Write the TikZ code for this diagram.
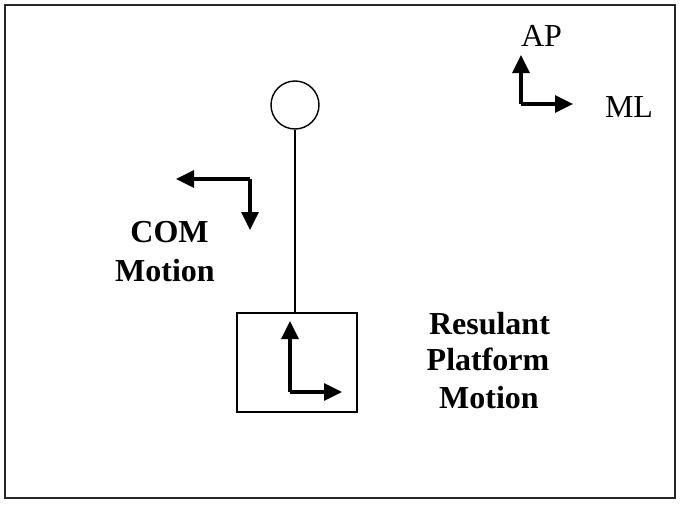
\documentclass[tikz,border=0pt]{standalone}
\usepackage{fontspec}
\setmainfont{Liberation Serif}
\usetikzlibrary{arrows.meta}
\tikzset{
  dirarrow/.style={line width=3.2pt, -{Triangle[length=18pt,width=17pt]}},
  plain/.style={line width=1.4pt},
  lbl/.style={anchor=base, inner sep=0pt, font=\fontsize{32}{38}\selectfont},
  blbl/.style={lbl, font=\fontsize{32}{38}\selectfont\bfseries},
}
\begin{document}
\begin{tikzpicture}[x=1pt,y=-1pt]
\useasboundingbox (0,0) rectangle (683,506);
\draw[line width=2pt, black!85] (4.5,4.5) rectangle (675,497.5);

% pendulum
\node[draw, plain, circle, minimum size=48pt, inner sep=0pt] (head) at (295,105) {};
\node[draw, plain, rectangle, minimum width=120pt, minimum height=99pt, inner sep=0pt] (base) at (297,362.5) {};
\draw[plain] (head.south) -- (base.north -| head.south);

% platform motion arrows
\coordinate (pc) at (290,392);
\coordinate (pup) at (290,321);
\coordinate (pright) at (342,392);
\draw[dirarrow] (pc) -- (pup);
\draw[dirarrow] (pc) -- (pright);

% COM motion arrows
\coordinate (cc) at (250,179);
\coordinate (cleft) at (176,179);
\coordinate (cdown) at (250,230);
\draw[dirarrow] (cc) -- (cleft);
\draw[dirarrow] (cc) -- (cdown);

% AP / ML axes
\coordinate (ac) at (521,104);
\coordinate (aup) at (521,55);
\coordinate (aright) at (573,104);
\draw[dirarrow] (ac) -- (aup);
\draw[dirarrow] (ac) -- (aright);

% labels
\node[lbl] (ap) at (541.5,46) {AP};
\node[lbl] (ml) at (629,117) {ML};
\node[blbl] (com1) at (169.5,242) {COM};
\node[blbl] (com2) at (165,281) {Motion};
\node[blbl] (res1) at (489.5,334) {Resulant};
\node[blbl] (res2) at (488,370) {Platform};
\node[blbl] (res3) at (489,408) {Motion};
\end{tikzpicture}
\end{document}
